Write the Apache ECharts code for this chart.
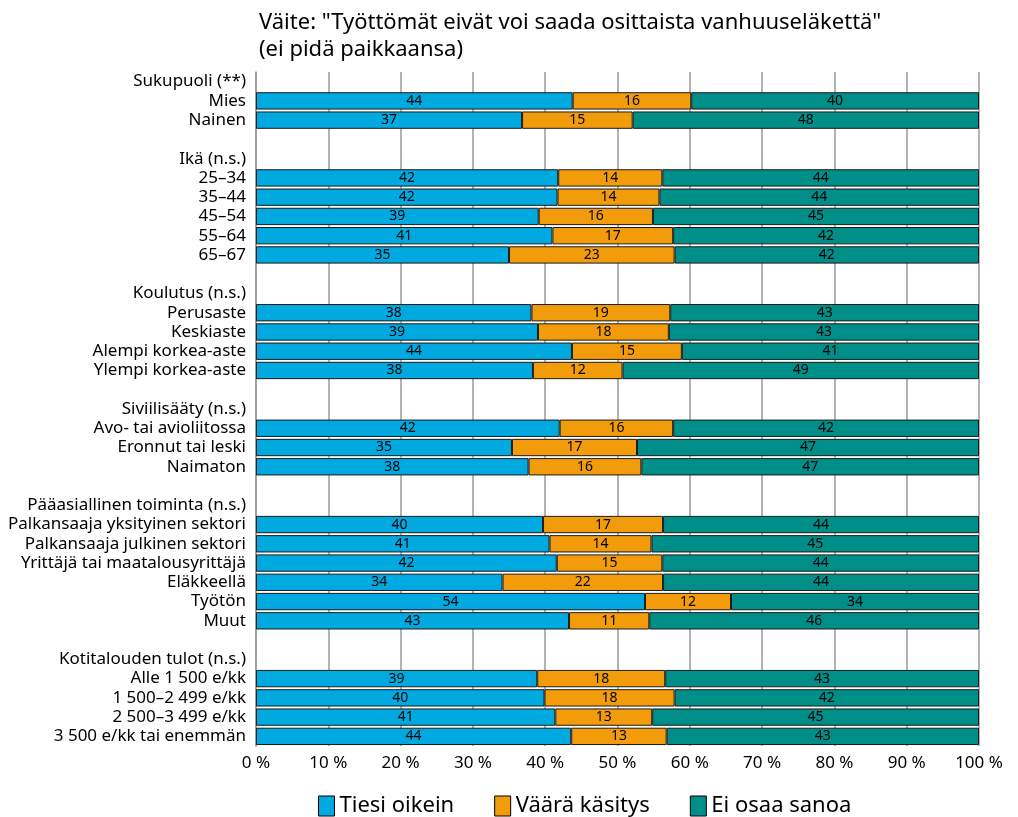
<!DOCTYPE html>
<html>
<head>
<meta charset="utf-8">
<script src="https://cdn.jsdelivr.net/npm/echarts@6/dist/echarts.min.js"></script>
<style>
  html, body { margin: 0; padding: 0; background: #fff; }
  #chart { width: 1018px; height: 817px; }
</style>
</head>
<body>
<div id="chart"></div>
<script>
// rows top to bottom; group headers and spacer rows carry no bars
var categories = [
  'Sukupuoli (**)', 'Mies', 'Nainen', ' ',
  'Ikä (n.s.)', '25–34', '35–44', '45–54', '55–64', '65–67', '  ',
  'Koulutus (n.s.)', 'Perusaste', 'Keskiaste', 'Alempi korkea-aste', 'Ylempi korkea-aste', '   ',
  'Siviilisääty (n.s.)', 'Avo- tai avioliitossa', 'Eronnut tai leski', 'Naimaton', '    ',
  'Pääasiallinen toiminta (n.s.)', 'Palkansaaja yksityinen sektori', 'Palkansaaja julkinen sektori',
  'Yrittäjä tai maatalousyrittäjä', 'Eläkkeellä', 'Työtön', 'Muut', '     ',
  'Kotitalouden tulot (n.s.)', 'Alle 1 500 e/kk', '1 500–2 499 e/kk', '2 500–3 499 e/kk', '3 500 e/kk tai enemmän'
];

var tiesiOikein = [
  null, 43.8, 36.8, null,
  null, 41.8, 41.7, 39.1, 41.0, 35.0, null,
  null, 38.1, 39.0, 43.7, 38.3, null,
  null, 42.0, 35.4, 37.7, null,
  null, 39.7, 40.6, 41.6, 34.1, 53.8, 43.3, null,
  null, 38.9, 39.9, 41.4, 43.6
];

var vaaraKasitys = [
  null, 16.4, 15.3, null,
  null, 14.4, 14.1, 15.8, 16.7, 22.9, null,
  null, 19.2, 18.1, 15.2, 12.4, null,
  null, 15.7, 17.3, 15.6, null,
  null, 16.6, 14.1, 14.6, 22.2, 11.9, 11.1, null,
  null, 17.7, 18.0, 13.4, 13.2
];

var eiOsaaSanoa = [
  null, 39.8, 47.9, null,
  null, 43.8, 44.2, 45.1, 42.3, 42.1, null,
  null, 42.7, 42.9, 41.1, 49.3, null,
  null, 42.3, 47.3, 46.7, null,
  null, 43.7, 45.3, 43.8, 43.7, 34.3, 45.6, null,
  null, 43.4, 42.1, 45.2, 43.2
];

var seriesNames = ['Tiesi oikein', 'Väärä käsitys', 'Ei osaa sanoa'];
var seriesColors = ['#00a9e0', '#f39c0b', '#008e89'];

var chart = echarts.init(document.getElementById('chart'), null, { renderer: 'canvas' });

function makeSeries(name, values, color) {
  return {
    name: name,
    type: 'bar',
    stack: 'total',
    data: values.map(function (v) { return v == null ? '-' : v; }),
    barCategoryGap: '10%',
    itemStyle: { color: color, borderColor: '#1a1a1a', borderWidth: 1 },
    label: {
      show: true,
      position: 'inside',
      color: '#000',
      fontSize: 14,
      fontFamily: 'Noto Sans',
      formatter: function (p) { return Math.round(p.value); }
    },
    emphasis: { disabled: true }
  };
}

var option = {
  backgroundColor: '#fff',
  animation: false,
  textStyle: { fontFamily: 'Noto Sans' },
  title: {
    text: 'Väite: "Työttömät eivät voi saada osittaista vanhuuseläkettä"\n(ei pidä paikkaansa)',
    left: 254,
    top: 4,
    textStyle: { fontSize: 22, fontWeight: 'normal', color: '#000', lineHeight: 27, fontFamily: 'Noto Sans' }
  },
  legend: {
    bottom: 0,
    left: 318,
    padding: 0,
    itemWidth: 16,
    itemHeight: 20,
    itemGap: 40,
    icon: 'rect',
    itemStyle: { borderColor: '#000', borderWidth: 1 },
    textStyle: { fontSize: 22, color: '#000', fontFamily: 'Noto Sans' },
    data: seriesNames
  },
  grid: {
    left: 256,
    right: 39,
    top: 72,
    bottom: 71,
    containLabel: false
  },
  xAxis: {
    type: 'value',
    min: 0,
    max: 100,
    interval: 10,
    axisLine: { show: false },
    axisTick: { show: false },
    axisLabel: {
      formatter: '{value} %',
      color: '#000',
      fontSize: 17,
      margin: 9
    },
    splitLine: { show: true, lineStyle: { color: '#9a9a9a', width: 1.5 } }
  },
  yAxis: {
    type: 'category',
    inverse: true,
    data: categories,
    axisLine: { show: true, lineStyle: { color: '#9a9a9a', width: 1.5 } },
    axisTick: { show: false },
    axisLabel: {
      color: '#000',
      fontSize: 17,
      margin: 10,
      interval: 0
    }
  },
  series: [
    makeSeries(seriesNames[0], tiesiOikein, seriesColors[0]),
    makeSeries(seriesNames[1], vaaraKasitys, seriesColors[1]),
    makeSeries(seriesNames[2], eiOsaaSanoa, seriesColors[2])
  ]
};

chart.setOption(option);
</script>
</body>
</html>
